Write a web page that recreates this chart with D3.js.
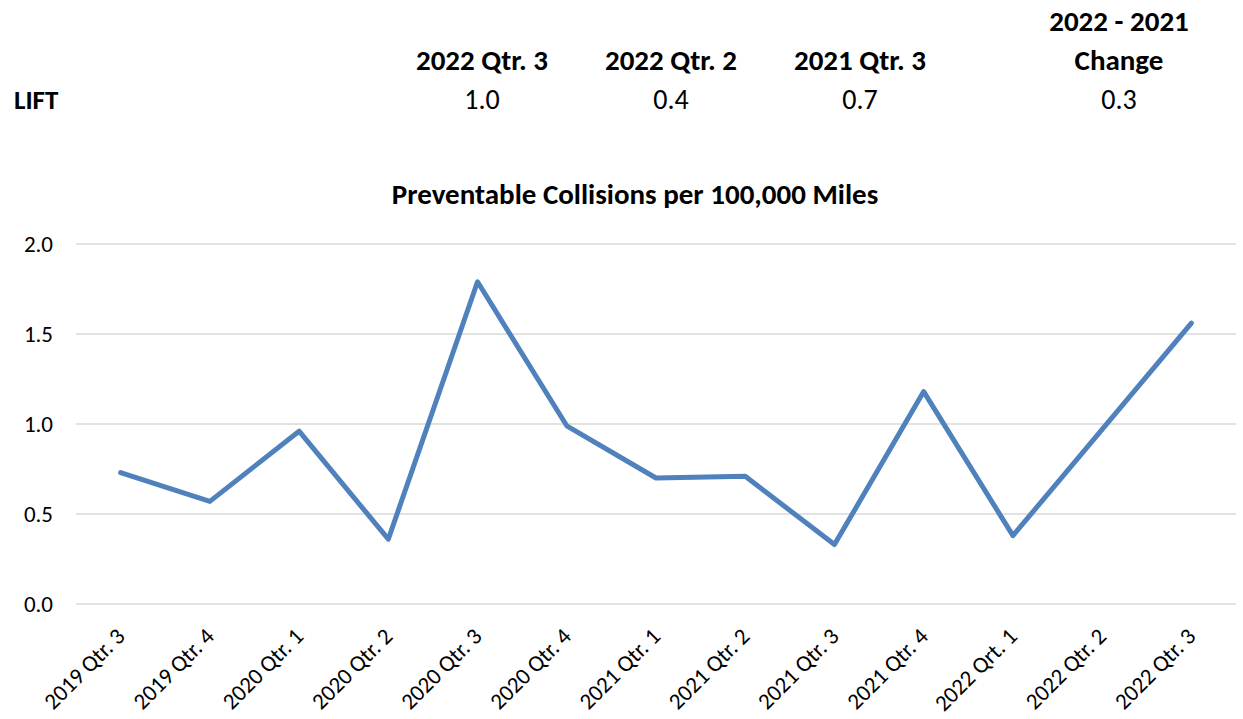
<!DOCTYPE html>
<html><head><meta charset="utf-8">
<script src="https://cdn.jsdelivr.net/npm/d3@7"></script>
<style>
html,body{margin:0;padding:0;background:#fff;}
svg{display:block;font-family:Carlito, Lato, "Open Sans", sans-serif;}
</style></head>
<body><svg id="c" width="1243" height="719"></svg>
<script>
const categories = ["2019 Qtr. 3","2019 Qtr. 4","2020 Qtr. 1","2020 Qtr. 2","2020 Qtr. 3","2020 Qtr. 4","2021 Qtr. 1","2021 Qtr. 2","2021 Qtr. 3","2021 Qtr. 4","2022 Qrt. 1","2022 Qtr. 2","2022 Qtr. 3"];
const collisions = [0.73, 0.57, 0.96, 0.36, 1.79, 0.99, 0.70, 0.71, 0.33, 1.18, 0.38, 0.97, 1.56];
const yTicks = [0, 0.5, 1.0, 1.5, 2.0];
const tableRowLabel = "LIFT";
const tableHeaders = [["2022 Qtr. 3"],["2022 Qtr. 2"],["2021 Qtr. 3"],["2022 - 2021","Change"]];
const tableValues = ["1.0","0.4","0.7","0.3"];
const chartTitle = "Preventable Collisions per 100,000 Miles";

const svg = d3.select("#c");
const mLeft = 76, mRight = 1236, mTop = 244, mBottom = 604;
const x = d3.scalePoint().domain(categories).range([mLeft, mRight]).padding(0.5);
const y = d3.scaleLinear().domain([0, 2]).range([mBottom, mTop]);

// table
const colX = [482, 671, 860, 1119];
const tbl = svg.append("g").attr("fill", "#000");
tableHeaders.forEach((h, i) => {
  h.forEach((line, j) => {
    tbl.append("text").attr("x", colX[i]).attr("y", 69.5 - (h.length - 1 - j) * 39)
      .attr("text-anchor", "middle").attr("font-weight", "bold").attr("font-size", 29).text(line);
  });
});
tableValues.forEach((v, i) => {
  tbl.append("text").attr("x", colX[i]).attr("y", 108.5).attr("text-anchor", "middle")
    .attr("font-size", 28).text(v);
});
tbl.append("text").attr("x", 14).attr("y", 108.5).attr("font-weight", "bold").attr("font-size", 27).text(tableRowLabel);

// title
svg.append("text").attr("x", 635).attr("y", 203.5).attr("text-anchor", "middle")
  .attr("font-weight", "bold").attr("font-size", 29).text(chartTitle);

// grid
svg.append("g").selectAll("line").data(yTicks).join("line")
  .attr("x1", mLeft).attr("x2", mRight).attr("y1", d => y(d)).attr("y2", d => y(d))
  .attr("stroke", "#d9d9d9").attr("stroke-width", 1.5);

// y axis labels
const yAxis = d3.axisLeft(y).tickValues(yTicks).tickFormat(d3.format(".1f")).tickSize(0).tickPadding(23);
const ya = svg.append("g").attr("transform", `translate(${mLeft},0)`).call(yAxis);
ya.select(".domain").remove();
ya.selectAll("text").attr("font-size", 23).attr("fill", "#000").attr("font-family", "Carlito, Lato, sans-serif");

// x labels
svg.append("g").selectAll("text").data(categories).join("text")
  .attr("transform", d => `translate(${x(d)},632) rotate(-45)`)
  .attr("text-anchor", "end").attr("dy", "0.35em").attr("font-size", 23).attr("fill", "#000").text(d => d);

// line
const line = d3.line().x((d, i) => x(categories[i])).y(d => y(d));
svg.append("path").datum(collisions).attr("d", line)
  .attr("fill", "none").attr("stroke", "#4f81bd").attr("stroke-width", 5)
  .attr("stroke-linejoin", "round").attr("stroke-linecap", "round");
</script></body></html>
